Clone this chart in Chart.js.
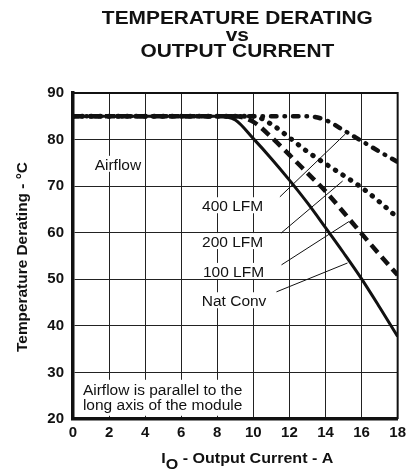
<!DOCTYPE html>
<html>
<head>
<meta charset="utf-8">
<script src="https://cdn.jsdelivr.net/npm/chart.js@4"></script>
<style>
  body { margin: 0; background: #fff; }
  #wrap { width: 411px; height: 474px; position: relative; }
</style>
</head>
<body>
<div id="wrap"><canvas id="myChart"></canvas></div>
<script>
// ### DATA ###
const current = [0, 1, 2, 3, 4, 5, 6, 7, 8, 9, 10, 11, 12, 13, 14, 15, 16, 17, 18];

const natConv = [85, 85, 85, 85, 85, 85, 85, 85, 85, 84.2, 80.2, 75.9, 71.3, 66.4, 61.1, 55.7, 50.1, 44, 37.7];
const lfm100  = [85, 85, 85, 85, 85, 85, 85, 85, 85, 85, 83.8, 80.5, 76.7, 72.8, 68.9, 64.4, 59.8, 55.3, 50.9];
const lfm200  = [85, 85, 85, 85, 85, 85, 85, 85, 85, 85, 85, 83.3, 80.4, 77.4, 74.8, 72.3, 69.7, 66.6, 63.2];
const lfm400  = [85, 85, 85, 85, 85, 85, 85, 85, 85, 85, 85, 85, 85, 85, 84.2, 82, 79.7, 77.4, 75.2];

const xTicks = [0, 2, 4, 6, 8, 10, 12, 14, 16, 18];
const yTicks = [20, 30, 40, 50, 60, 70, 80, 90];

const titleLines = ['TEMPERATURE DERATING', 'vs', 'OUTPUT CURRENT'];
const yTitle = 'Temperature Derating - \u00B0C';
const airflowNote = ['Airflow is parallel to the', 'long axis of the module'];

// labels + leader lines, in data units (A, degC)
const curveLabels = [
  { text: '400 LFM', at: [8.85, 65.9], from: [11.47, 67.7], to: [15.1, 81.2] },
  { text: '200 LFM', at: [8.85, 58.2], from: [11.53, 59.9], to: [14.95, 71.1] },
  { text: '100 LFM', at: [8.9, 51.8],  from: [11.56, 53.1], to: [15.3, 62.4] },
  { text: 'Nat Conv', at: [8.93, 45.5], from: [11.28, 47.3], to: [15.22, 53.5] }
];

const FONT = '"Liberation Sans", Arial, sans-serif';
const INK = '#111';

function pts(ys) {
  return current.map((x, i) => ({ x: x, y: ys[i] }));
}

function txt(ctx, s, x, y, font, align, sx) {
  ctx.save();
  ctx.font = font;
  ctx.translate(x, y);
  ctx.scale(sx || 1, 1);
  ctx.textAlign = align || 'center';
  ctx.textBaseline = 'alphabetic';
  ctx.fillStyle = INK;
  ctx.fillText(s, 0, 0);
  ctx.restore();
}

// draws title, axis titles, frame, labels and leaders
const decor = {
  id: 'decor',
  beforeDatasetsDraw(chart) {
    const { ctx, chartArea: a } = chart;
    ctx.save();
    ctx.strokeStyle = INK;
    ctx.lineWidth = 2;
    ctx.beginPath();
    ctx.moveTo(a.left, a.top);
    ctx.lineTo(a.right, a.top);
    ctx.lineTo(a.right, a.bottom);
    ctx.stroke();
    ctx.restore();
  },
  afterDatasetsDraw(chart) {
    const { ctx, chartArea: a, scales } = chart;
    const X = v => scales.x.getPixelForValue(v);
    const Y = v => scales.y.getPixelForValue(v);
    const cx = (a.left + a.right) / 2;

    // title
    txt(ctx, titleLines[0], cx + 2, 24, 'bold 19px ' + FONT, 'center', 1.1);
    txt(ctx, titleLines[1], cx + 2, 41, 'bold 19px ' + FONT, 'center', 1.1);
    txt(ctx, titleLines[2], cx + 2, 57, 'bold 19px ' + FONT, 'center', 1.1);

    // y title
    ctx.save();
    ctx.translate(27, (a.top + a.bottom) / 2 + 1);
    ctx.rotate(-Math.PI / 2);
    txt(ctx, yTitle, 0, 0, 'bold 14px ' + FONT, 'center', 1.1);
    ctx.restore();

    // x title with subscript O
    ctx.save();
    ctx.fillStyle = INK;
    const f1 = 'bold 15px ' + FONT;
    const rest = ' - Output Current - A';
    ctx.font = f1;
    const wI = ctx.measureText('I').width, wR = ctx.measureText(rest).width;
    const wO = ctx.measureText('O').width;
    const sx = 1.07;
    const x0 = cx + 12 - (wI + wO + wR) * sx / 2;
    ctx.translate(x0, 463);
    ctx.scale(sx, 1);
    ctx.fillText('I', 0, 0);
    ctx.fillText('O', wI, 6);
    ctx.fillText(rest, wI + wO, 0);
    ctx.restore();

    // Airflow label
    ctx.save();
    ctx.font = '15.5px ' + FONT;
    let w = ctx.measureText('Airflow').width;
    ctx.fillStyle = '#fff';
    ctx.fillRect(X(2.49) - w / 2 - 2, Y(74.8) - 8, w + 4, 16);
    ctx.restore();
    txt(ctx, 'Airflow', X(2.49), Y(74.8) + 6, '15.5px ' + FONT, 'center');

    // curve labels
    curveLabels.forEach(l => {
      const px = X(l.at[0]), py = Y(l.at[1]);
      ctx.save();
      ctx.fillStyle = '#fff';
      ctx.fillRect(px - 42, py - 8, 86, 16);
      ctx.restore();
      txt(ctx, l.text, px, py + 6, '15.5px ' + FONT, 'center');
      ctx.save();
      ctx.strokeStyle = INK;
      ctx.lineWidth = 1;
      ctx.beginPath();
      ctx.moveTo(X(l.from[0]), Y(l.from[1]));
      ctx.lineTo(X(l.to[0]), Y(l.to[1]));
      ctx.stroke();
      ctx.restore();
    });

    // note box bottom left
    ctx.save();
    ctx.font = '15.5px ' + FONT;
    w = Math.max(ctx.measureText(airflowNote[0]).width, ctx.measureText(airflowNote[1]).width);
    const nx = X(0.55), ny = Y(25.2);
    ctx.fillStyle = '#fff';
    ctx.fillRect(nx - 3, ny - 15, w + 6, 36);
    ctx.restore();
    txt(ctx, airflowNote[0], nx, ny, '15.5px ' + FONT, 'left');
    txt(ctx, airflowNote[1], nx, Y(22.0), '15.5px ' + FONT, 'left');
  }
};

const ctx = document.getElementById('myChart');

const myChart = new Chart(ctx, {
  type: 'line',
  data: {
    datasets: [
      {
        label: 'Nat Conv',
        data: pts(natConv),
        borderColor: INK,
        borderWidth: 3,
        cubicInterpolationMode: 'monotone'
      },
      {
        label: '100 LFM',
        data: pts(lfm100),
        borderColor: INK,
        borderWidth: 4.5,
        borderDash: [10, 6],
        cubicInterpolationMode: 'monotone'
      },
      {
        label: '200 LFM',
        data: pts(lfm200),
        borderColor: INK,
        borderWidth: 5,
        borderCapStyle: 'round',
        borderDash: [0.5, 8.5],
        cubicInterpolationMode: 'monotone'
      },
      {
        label: '400 LFM',
        data: pts(lfm400),
        borderColor: INK,
        borderWidth: 4.5,
        borderCapStyle: 'round',
        borderDash: [5.5, 8, 0.5, 8],
        cubicInterpolationMode: 'monotone'
      }
    ]
  },
  options: {
    responsive: true,
    maintainAspectRatio: false,
    animation: false,
    events: [],
    elements: { point: { radius: 0 } },
    layout: { padding: { left: 0, right: 10, top: 93, bottom: 0 } },
    plugins: {
      legend: { display: false },
      tooltip: { enabled: false },
      title: { display: false }
    },
    scales: {
      x: {
        type: 'linear',
        min: 0,
        max: 18,
        afterBuildTicks: s => { s.ticks = xTicks.map(v => ({ value: v })); },
        afterFit: s => { s.height = 55; },
        grid: { color: '#222', lineWidth: 1, drawTicks: false },
        border: { display: true, color: INK, width: 3.5 },
        ticks: { color: INK, padding: 5, font: { family: FONT, size: 15, weight: 'bold' }, maxRotation: 0 }
      },
      y: {
        type: 'linear',
        min: 20,
        max: 90,
        afterBuildTicks: s => { s.ticks = yTicks.map(v => ({ value: v })); },
        afterFit: s => { s.width = 73; },
        grid: { color: '#222', lineWidth: 1, drawTicks: false },
        border: { display: true, color: INK, width: 3.5 },
        ticks: { color: INK, padding: 9, font: { family: FONT, size: 15, weight: 'bold' } }
      }
    }
  },
  plugins: [decor]
});
</script>
</body>
</html>
